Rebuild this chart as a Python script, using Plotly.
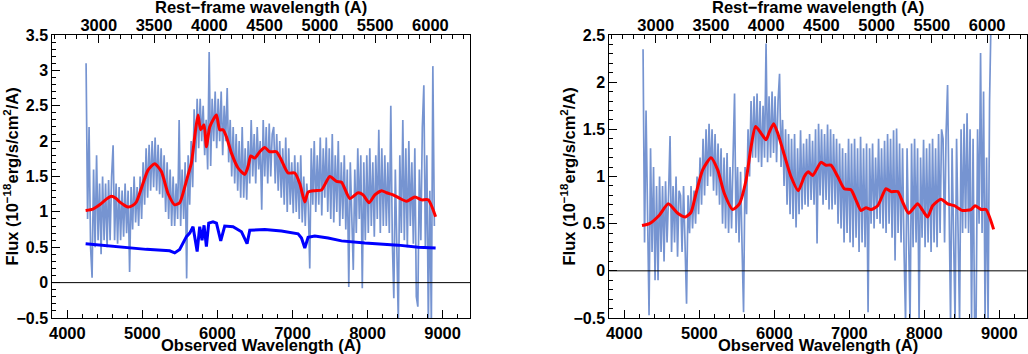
import numpy as np
import plotly.graph_objects as go

# redshift used for the rest-frame (top) axis
one_plus_z = 1.473

# noisy observed spectra, sampled every 20 A from 4250 A
grid_start, grid_step = 4250, 20

flux_left = [
    3.10, 0.90, 2.20, 0.50, 0.07, 1.60, 0.50, 1.80, 0.60, 1.40, 0.40, 1.50, 0.60, 1.40, 0.50, 1.45, 0.60, 1.50, 1.94, 0.60, 1.40, 0.55, 1.35, 0.60, 1.30,
    0.65, 1.40, 0.70, 1.30, 0.15, 1.35, 0.75, 1.50, 0.85, 1.35, 0.80, 1.50, 0.90, 1.70, 1.10, 1.90, 1.20, 1.95, 1.30, 2.00, 1.35, 2.05, 1.30, 1.95, 1.25,
    1.90, 1.20, 1.80, 1.00, 1.70, 0.90, 1.60, 0.80, 1.50, 0.80, 1.40, 0.90, 2.30, 0.80, 1.60, 0.90, 1.70, 0.06, 1.80, 1.10, 2.00, 1.35, 2.45, 1.70, 2.60,
    1.90, 2.60, 2.00, 2.50, 1.80, 2.30, 1.60, 3.26, 1.65, 2.60, 2.00, 2.70, 1.90, 2.60, 2.00, 2.70, 1.80, 2.50, 2.00, 2.75, 1.70, 2.30, 1.50, 2.20, 1.40,
    2.10, 1.30, 2.00, 1.20, 2.20, 1.20, 1.90, 1.17, 2.00, 1.40, 2.30, 1.50, 2.10, 1.40, 2.20, 1.60, 2.00, 1.03, 2.30, 1.50, 2.20, 1.40, 2.25, 1.50, 2.10,
    2.20, 1.40, 2.10, 1.30, 2.00, 1.20, 1.90, 1.10, 2.05, 1.00, 1.90, 1.10, 1.70, 0.98, 1.80, 1.00, 1.70, 0.90, 1.80, 0.85, 1.50, 0.80, 1.40, 1.10, 0.20,
    1.90, 1.10, 2.00, 1.00, 1.80, 1.10, 2.05, 0.95, 1.90, 1.20, 2.05, 1.00, 1.90, 0.90, 2.10, 0.85, 1.80, 1.00, 2.00, 0.80, 1.70, 0.90, 1.80, 0.75, 1.60,
    -0.06, 1.70, 0.80, 0.18, 1.60, 0.70, 1.90, 0.90, 1.80, -0.08, 1.70, 0.60, 1.80, 0.70, 1.90, 0.80, 1.70, 0.65, 1.80, 0.90, 2.16, 0.70, 1.90, 0.80, 1.80,
    0.80, 1.70, 0.70, 2.50, 0.60, -0.22, 1.60, 0.50, -0.55, 1.80, 0.70, 2.30, 0.60, 1.90, 0.50, 2.00, 0.80, 1.70, 0.55, 1.90, -0.20, -0.34, 1.60, 0.60, 2.20,
    2.79, 0.50, 1.80, -0.60, 1.30, -0.60, 3.06, 0.80,
]

flux_right = [
    2.35, 0.30, 1.70, 0.50, -0.47, 1.30, 0.20, 1.10, -0.10, 0.90, -0.10, 1.00, 0.20, 0.90, 0.10, 0.95, 0.30, 0.80, 1.43, 0.20, 0.90, 0.30, 1.00, 0.15, 0.85,
    0.80, 0.20, 0.90, 0.30, -0.35, 0.80, 0.40, 0.90, 0.45, 0.85, 0.50, 1.00, 0.60, 1.20, 0.70, 1.40, 0.80, 1.50, 0.90, 1.56, 1.00, 1.50, 0.85, 1.45, 0.80,
    1.35, 0.70, 1.30, 0.50, 1.20, 0.45, 1.25, 0.40, 1.10, 0.45, 1.20, 1.88, 0.40, 1.10, 0.30, 1.05, 0.25, -0.44, 1.10, 0.60, 1.50, 1.00, 1.80, 1.20, 1.85,
    1.20, 1.88, 1.15, 1.80, 1.10, 1.75, 1.20, 2.41, 1.15, 1.85, 1.20, 1.90, 1.25, 1.85, 1.15, 1.80, 2.09, 1.10, 1.60, 0.90, 1.50, 0.70, 1.45, 0.60, 1.40,
    0.55, 1.45, 0.46, 1.30, 0.60, 1.49, 0.65, 1.35, 0.70, 1.40, 0.68, 1.45, 0.75, 1.38, 0.70, 1.50, 0.29, 1.56, 0.80, 1.50, 0.70, 1.45, 0.75, 1.55, 0.65,
    1.50, 0.65, 1.45, 0.70, 1.40, 0.50, 1.35, 0.45, 1.30, 0.30, 1.25, 0.40, 1.40, 0.30, 1.35, 0.25, 1.40, 0.35, 1.30, 0.20, 1.42, 0.30, 1.30, 0.25, 1.35,
    -0.44, 1.30, 0.50, 1.35, 0.45, 1.20, 0.55, 1.40, 0.50, 1.30, 0.45, 1.38, 0.40, 1.45, 0.50, 1.40, 0.35, 1.49, 0.11, 1.51, 0.40, 1.35, 0.30, 1.30, 0.20,
    -0.55, 1.30, 0.30, -0.55, 1.35, 0.25, 1.40, 0.30, 1.30, -0.55, 1.20, 0.35, 1.39, 0.25, 1.30, 0.30, 1.35, 0.20, 1.40, 0.30, 1.30, 0.25, 1.45, 0.40, 1.50,
    1.40, 0.30, 1.45, 1.97, 0.40, -0.55, 1.30, 0.35, -0.55, 1.40, 0.30, -0.55, 1.50, 0.40, 1.56, 0.45, 1.67, 0.40, 1.50, -0.55, 1.40, -0.55, -0.55, 1.50, 0.50,
    2.31, 0.40, 1.90, -0.55, 1.20, -0.55, 1.80, 2.70,
]

# best-fit model (red)
model_wl_left = [4244, 4341, 4431, 4520, 4587, 4650, 4697, 4750, 4808, 4870, 4920, 5008, 5075, 5164, 5253,
                 5342, 5431, 5497, 5577, 5608, 5653, 5697, 5741, 5777, 5822, 5853, 5897, 5941, 5987, 6031,
                 6075, 6120, 6187, 6275, 6364, 6408, 6444, 6497, 6564, 6631, 6697, 6787, 6853, 6941, 7031,
                 7097, 7164, 7208, 7297, 7387, 7497, 7587, 7653, 7764, 7875, 7941, 8021, 8097, 8187, 8253,
                 8341, 8431, 8520, 8631, 8720, 8808, 8907]
model_fl_left = [1.02, 1.04, 1.10, 1.18, 1.22, 1.19, 1.14, 1.10, 1.07, 1.09, 1.14, 1.40, 1.59, 1.68, 1.57,
                 1.26, 1.10, 1.13, 1.40, 1.52, 1.69, 2.06, 2.37, 2.16, 2.23, 1.92, 2.20, 2.30, 2.37, 2.16,
                 2.16, 2.06, 1.83, 1.62, 1.53, 1.64, 1.79, 1.76, 1.85, 1.91, 1.85, 1.85, 1.73, 1.55, 1.55,
                 1.40, 1.14, 1.28, 1.30, 1.31, 1.50, 1.43, 1.42, 1.19, 1.27, 1.24, 1.13, 1.24, 1.30, 1.27,
                 1.24, 1.19, 1.15, 1.21, 1.17, 1.17, 0.93]

model_wl_right = [4236, 4334, 4467, 4587, 4712, 4814, 4889, 4956, 5045, 5156, 5245, 5334, 5445, 5534, 5623,
                  5689, 5750, 5822, 5889, 5933, 5991, 6045, 6133, 6222, 6320, 6400, 6453, 6511, 6622, 6689,
                  6756, 6845, 6933, 7022, 7089, 7156, 7222, 7289, 7378, 7489, 7556, 7645, 7711, 7791, 7911,
                  7978, 8044, 8111, 8222, 8311, 8400, 8511, 8622, 8676, 8756, 8822, 8924]
model_fl_right = [0.48, 0.50, 0.59, 0.71, 0.61, 0.57, 0.62, 0.82, 1.07, 1.20, 1.07, 0.82, 0.65, 0.71, 0.96,
                  1.31, 1.53, 1.46, 1.39, 1.47, 1.56, 1.46, 1.23, 1.00, 0.85, 1.00, 1.05, 1.01, 1.15, 1.12,
                  1.12, 1.00, 0.87, 0.86, 0.75, 0.64, 0.67, 0.65, 0.69, 0.87, 0.84, 0.84, 0.73, 0.61, 0.71,
                  0.64, 0.57, 0.69, 0.76, 0.71, 0.69, 0.64, 0.65, 0.69, 0.65, 0.65, 0.44]

# host galaxy component (blue, left panel only)
host_wl = [4244, 4431, 4608, 4787, 5053, 5364, 5431, 5497, 5587, 5631, 5675, 5697, 5730, 5764, 5795,
           5822, 5853, 5884, 5941, 5987, 6044, 6097, 6208, 6320, 6395, 6431, 6631, 6853, 7075, 7120,
           7164, 7208, 7297, 7475, 7653, 7964, 8408, 8675, 8907]
host_fl = [0.55, 0.53, 0.52, 0.50, 0.47, 0.45, 0.42, 0.47, 0.65, 0.70, 0.79, 0.65, 0.44, 0.79, 0.60,
           0.81, 0.51, 0.84, 0.86, 0.84, 0.59, 0.80, 0.79, 0.72, 0.55, 0.74, 0.75, 0.73, 0.69, 0.63,
           0.49, 0.64, 0.66, 0.63, 0.59, 0.56, 0.53, 0.50, 0.49]

obs_range = [3800, 9365]
FONT = "Liberation Sans, Arial, Helvetica, sans-serif"
SPEC_COLOR = "#7694d1"

wl_left = grid_start + grid_step * np.arange(len(flux_left))
wl_right = grid_start + grid_step * np.arange(len(flux_right))

fig = go.Figure()

# left panel
fig.add_trace(go.Scatter(x=wl_left, y=flux_left, mode="lines",
                         line=dict(color=SPEC_COLOR, width=1.7), xaxis="x", yaxis="y"))
fig.add_trace(go.Scatter(x=host_wl, y=host_fl, mode="lines",
                         line=dict(color="#0000ff", width=3), xaxis="x", yaxis="y"))
fig.add_trace(go.Scatter(x=model_wl_left, y=model_fl_left, mode="lines",
                         line=dict(color="#ff0000", width=3, shape="spline", smoothing=0.6),
                         xaxis="x", yaxis="y"))
fig.add_trace(go.Scatter(x=[], y=[], xaxis="x2", yaxis="y"))

# right panel
fig.add_trace(go.Scatter(x=wl_right, y=flux_right, mode="lines",
                         line=dict(color=SPEC_COLOR, width=1.7), xaxis="x3", yaxis="y2"))
fig.add_trace(go.Scatter(x=model_wl_right, y=model_fl_right, mode="lines",
                         line=dict(color="#ff0000", width=3, shape="spline", smoothing=0.6),
                         xaxis="x3", yaxis="y2"))
fig.add_trace(go.Scatter(x=[], y=[], xaxis="x4", yaxis="y2"))


def tickfont(size):
    return dict(family=FONT, size=size, color="black", weight="bold")


def bottom_axis(domain, anchor):
    return dict(domain=domain, anchor=anchor, range=obs_range, dtick=1000, tick0=0,
                ticks="inside", ticklen=8, tickwidth=1, tickcolor="black",
                minor=dict(dtick=200, ticks="inside", ticklen=4, tickcolor="black"),
                showline=True, linecolor="black", linewidth=1, mirror=True, automargin=False,
                showgrid=False, zeroline=False, tickfont=tickfont(16.5))


def top_axis(overlay, anchor):
    return dict(overlaying=overlay, anchor=anchor, side="top",
                range=[obs_range[0] / one_plus_z, obs_range[1] / one_plus_z],
                dtick=500, tick0=0, ticks="inside", ticklen=8, tickwidth=1, tickcolor="black",
                minor=dict(dtick=100, ticks="inside", ticklen=4, tickcolor="black"),
                showline=False, showgrid=False, zeroline=False, automargin=False,
                tickfont=tickfont(16.5))


def flux_axis(domain, anchor, rng):
    return dict(domain=domain, anchor=anchor, range=rng, dtick=0.5, tick0=0,
                ticks="inside", ticklen=8, tickwidth=1, tickcolor="black",
                minor=dict(dtick=0.1, ticks="inside", ticklen=4, tickcolor="black"),
                showline=True, linecolor="black", linewidth=1, mirror=True, automargin=False,
                showgrid=False, zeroline=False, tickfont=tickfont(16))


ydom = [36 / 354, 319 / 354]
fig.update_layout(
    template="none",
    width=1028, height=354, showlegend=False,
    margin=dict(l=0, r=0, t=0, b=0, pad=0),
    paper_bgcolor="white", plot_bgcolor="white",
    xaxis=bottom_axis([52.3 / 1028, 470 / 1028], "y"),
    xaxis2=top_axis("x", "y"),
    yaxis=flux_axis(ydom, "x", [-0.5, 3.5]),
    xaxis3=bottom_axis([609.3 / 1028, 1026.7 / 1028], "y2"),
    xaxis4=top_axis("x3", "y2"),
    yaxis2=flux_axis(ydom, "x3", [-0.5, 2.5]),
)

# zero lines
for xr, yr in [("x domain", "y"), ("x3 domain", "y2")]:
    fig.add_shape(type="line", xref=xr, yref=yr, x0=0, x1=1, y0=0, y1=0,
                  line=dict(color="black", width=1))

title_font = dict(family=FONT, size=16.5, color="black", weight="bold")
ytitle = "Flux (10<sup>−18</sup>erg/s/cm<sup>2</sup>/A)"
for cx, ty in [(261 / 1028, 12 / 1028), (818 / 1028, 569 / 1028)]:
    fig.add_annotation(text="Rest−frame wavelength (A)", x=cx, y=1 - 7.5 / 354,
                       xanchor="center", yanchor="middle",
                       xref="paper", yref="paper", showarrow=False, font=title_font)
    fig.add_annotation(text="Observed Wavelength (A)", x=cx, y=1 - 345 / 354,
                       xanchor="center", yanchor="middle",
                       xref="paper", yref="paper", showarrow=False, font=title_font)
    fig.add_annotation(text=ytitle, x=ty, y=1 - 176.5 / 354, textangle=-90,
                       xanchor="center", yanchor="middle",
                       xref="paper", yref="paper", showarrow=False, font=title_font)

fig.write_html("out.html", config={"displayModeBar": False},
               post_script="document.body.style.margin='0';")
